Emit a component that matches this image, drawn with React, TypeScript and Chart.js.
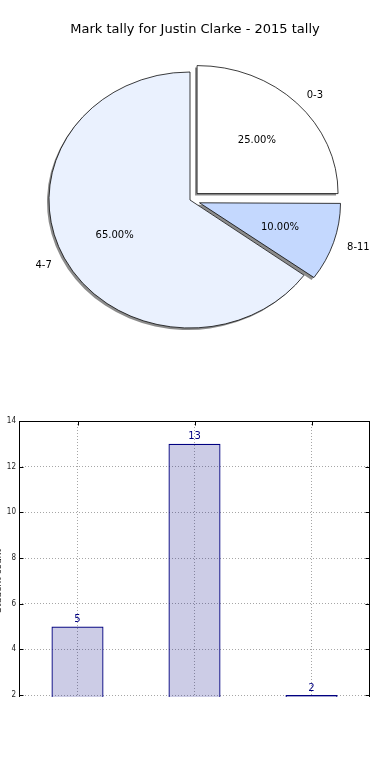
import React, { useEffect, useRef } from 'react';
import { Chart, registerables } from 'chart.js';
Chart.register(...registerables);

const TITLE = 'Mark tally for Justin Clarke - 2015 tally';
const pieLabels = ['0-3', '4-7', '8-11'];
const pieValues = [25, 65, 10];
const pieColors = ['#ffffff', '#eaf1fe', '#c4d8fe'];
const pieExplode = [10, 0, 10];

const barLabels = ['0-3', '4-7', '8-11'];
const barValues = [5, 13, 2];
const yMin = 0;
const yMax = 14;
const yStep = 2;
const yTitle = 'Student count';

const FONT = '"DejaVu Sans", sans-serif';
const PIE_R = 141;
const SY = 128 / 141; // vertical squash of the pie (non-equal aspect)

// Chart.js ArcElement translates a slice by offset/4 and grows its radius by offset/4 * fix
const arcFix = (circ: number) => 1 - Math.sin(Math.min(Math.PI, circ));
const effOffset = (arc: any) => (arc.options.offset || 0) / 4;

const piePlugin = {
  id: 'pieDecor',
  beforeDatasetsDraw(chart: any) {
    const ctx = chart.ctx;
    const meta = chart.getDatasetMeta(0);
    const a0 = meta.data[0];
    const cx = a0.x, cy = a0.y;
    meta.data.forEach((arc: any) => {
      const fix = arcFix(arc.endAngle - arc.startAngle);
      arc.outerRadius = PIE_R - effOffset(arc) * fix;
    });
    ctx.save();
    ctx.translate(cx, cy);
    ctx.scale(1, SY);
    ctx.translate(-cx, -cy);
    ctx.fillStyle = 'rgba(0,0,0,0.45)';
    meta.data.forEach((arc: any) => {
      const { startAngle, endAngle } = arc;
      const off = effOffset(arc);
      const mid = (startAngle + endAngle) / 2;
      const x = cx + Math.cos(mid) * off - 2;
      const y = cy + Math.sin(mid) * off + 2 / SY;
      ctx.beginPath();
      ctx.moveTo(x, y);
      ctx.arc(x, y, PIE_R, startAngle, endAngle);
      ctx.closePath();
      ctx.fill();
    });
  },
  afterDatasetsDraw(chart: any) {
    const ctx = chart.ctx;
    ctx.restore();
    const meta = chart.getDatasetMeta(0);
    const data = chart.data.datasets[0].data as number[];
    const labels = chart.data.labels as string[];
    const total = data.reduce((a, b) => a + b, 0);
    ctx.save();
    ctx.font = `10px ${FONT}`;
    ctx.fillStyle = '#000';
    ctx.textBaseline = 'middle';
    meta.data.forEach((arc: any, i: number) => {
      const { startAngle, endAngle, x: cx, y: cy } = arc;
      const off = effOffset(arc);
      const mid = (startAngle + endAngle) / 2;
      const c = Math.cos(mid), s = Math.sin(mid);
      const ox = c * off, oy = s * off;
      const px = (d: number) => cx + ox + d * PIE_R * c;
      const py = (d: number) => cy + (oy + d * PIE_R * s) * SY;
      ctx.textAlign = c >= 0 ? 'left' : 'right';
      ctx.fillText(labels[i], px(1.1), py(1.1) + 1);
      ctx.textAlign = 'center';
      ctx.fillText(((data[i] / total) * 100).toFixed(2) + '%', px(0.6), py(0.6) + 1);
    });
    ctx.font = `13px ${FONT}`;
    ctx.textAlign = 'center';
    ctx.fillText(TITLE, 195, 30);
    ctx.restore();
  },
};

const framePlugin = {
  id: 'frame',
  afterDraw(chart: any) {
    const { ctx, chartArea: a } = chart;
    const ys = chart.scales.y;
    ctx.save();
    ctx.strokeStyle = '#000';
    ctx.lineWidth = 1;
    const L = Math.round(a.left) + 0.5, R = Math.round(a.right) - 0.5;
    const T = Math.round(a.top) + 0.5, B = Math.round(a.bottom) - 0.5;
    ctx.strokeRect(L, T, R - L, B - T);
    ctx.beginPath();
    for (let v = yMin; v <= yMax; v += yStep) {
      const y = Math.round(ys.getPixelForValue(v)) + 0.5;
      ctx.moveTo(L, y); ctx.lineTo(L + 4, y);
      ctx.moveTo(R, y); ctx.lineTo(R - 4, y);
    }
    chart.getDatasetMeta(0).data.forEach((b: any) => {
      const x = Math.round(b.x) + 0.5;
      ctx.moveTo(x, T); ctx.lineTo(x, T + 4);
    });
    ctx.stroke();
    ctx.restore();
  },
};

const barLabelPlugin = {
  id: 'barLabels',
  afterDatasetsDraw(chart: any) {
    const ctx = chart.ctx;
    const meta = chart.getDatasetMeta(0);
    const data = chart.data.datasets[0].data as number[];
    ctx.save();
    ctx.font = `10px ${FONT}`;
    ctx.fillStyle = '#000080';
    ctx.textAlign = 'center';
    ctx.textBaseline = 'bottom';
    meta.data.forEach((bar: any, i: number) => {
      ctx.fillText(String(data[i]), bar.x, bar.y - 2);
    });
    ctx.restore();
  },
};

export default function App() {
  const pieRef = useRef<HTMLCanvasElement>(null);
  const barRef = useRef<HTMLCanvasElement>(null);

  useEffect(() => {
    const order = [2, 1, 0];
    const pie = new Chart(pieRef.current as HTMLCanvasElement, {
      type: 'pie',
      data: {
        labels: order.map((i) => pieLabels[i]),
        datasets: [
          {
            data: order.map((i) => pieValues[i]),
            backgroundColor: order.map((i) => pieColors[i]),
            borderColor: '#000',
            borderWidth: 0.8,
            offset: order.map((i) => pieExplode[i] * 4),
          } as any,
        ],
      },
      options: {
        responsive: false,
        animation: false,
        events: [],
        rotation: 90,
        radius: PIE_R,
        layout: { padding: 0 },
        plugins: { legend: { display: false }, tooltip: { enabled: false }, title: { display: false } },
      } as any,
      plugins: [piePlugin],
    });

    const gridColor = 'rgba(0,0,0,0.35)';
    const bar = new Chart(barRef.current as HTMLCanvasElement, {
      type: 'bar',
      data: {
        labels: barLabels,
        datasets: [
          {
            data: barValues,
            backgroundColor: 'rgba(0,0,128,0.2)',
            borderColor: '#000080',
            borderWidth: 1.2,
            barPercentage: 0.445,
            categoryPercentage: 1,
          },
        ],
      },
      options: {
        responsive: false,
        animation: false,
        events: [],
        layout: { padding: { left: 0, right: 20, top: 21, bottom: 19.3 } },
        plugins: { legend: { display: false }, tooltip: { enabled: false } },
        scales: {
          x: {
            offset: true,
            ticks: { display: false },
            grid: { offset: false, drawTicks: false, color: gridColor },
            border: { display: false, dash: [1, 2] },
          },
          y: {
            min: yMin,
            max: yMax,
            ticks: { stepSize: yStep, padding: 3, color: '#222', font: { family: '"DejaVu Sans Condensed", "DejaVu Sans", sans-serif', size: 8 } },
            grid: { drawTicks: false, color: gridColor },
            border: { display: false, dash: [1, 2] },
            title: { display: true, text: yTitle, color: '#222', font: { family: FONT, size: 9 }, padding: { top: 3, bottom: 0 } },
            afterFit: (s: any) => { s.width = 29; },
          },
        },
      } as any,
      plugins: [barLabelPlugin, framePlugin],
    });

    return () => {
      pie.destroy();
      bar.destroy();
    };
  }, []);

  return (
    <div style={{ position: 'absolute', left: 0, top: 0, width: 390, height: 780, background: '#fff', overflow: 'hidden' }}>
      <canvas ref={pieRef} width={380} height={400} style={{ position: 'absolute', left: 0, top: 0, width: 380, height: 400 }} />
      <div style={{ position: 'absolute', left: 0, top: 400, width: 390, height: 297, overflow: 'hidden' }}>
        <canvas ref={barRef} width={400} height={360} style={{ position: 'absolute', left: -10, top: 0, width: 400, height: 360 }} />
      </div>
    </div>
  );
}
